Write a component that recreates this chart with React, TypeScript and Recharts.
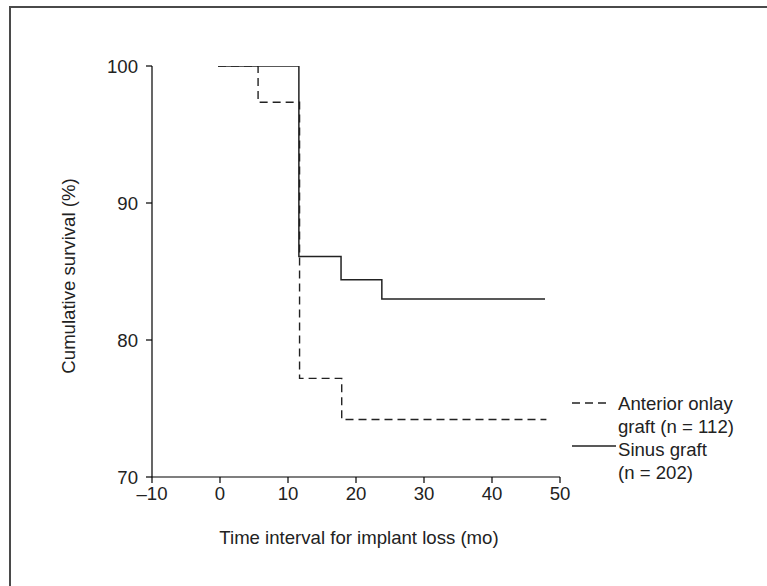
import React from 'react';
import { LineChart, Line, XAxis, YAxis, Label } from 'recharts';

const anteriorData = [
  { x: -0.3, y: 100 },
  { x: 5.6, y: 97.35 },
  { x: 11.7, y: 77.2 },
  { x: 17.9, y: 74.2 },
  { x: 48, y: 74.2 },
];

const sinusData = [
  { x: -0.3, y: 100 },
  { x: 11.6, y: 86.1 },
  { x: 17.8, y: 84.4 },
  { x: 23.8, y: 83.0 },
  { x: 47.8, y: 83.0 },
];

const xTicks = [-10, 0, 10, 20, 30, 40, 50];
const yTicks = [70, 80, 90, 100];
const xLabel = 'Time interval for implant loss (mo)';
const yLabel = 'Cumulative survival (%)';
const legendItems = [
  { lines: ['Anterior onlay', 'graft (n = 112)'], dash: '8 5' },
  { lines: ['Sinus graft', '(n = 202)'], dash: undefined as string | undefined },
];

const FONT = '"Liberation Sans", Arial, Helvetica, sans-serif';
const INK = '#222';
const FS = 18.6;

const fmt = (v: number) => String(v).replace('-', '\u2013');

const LegendBox = () => {
  const ox = 565;
  const oy = 388;
  return (
    <svg width={200} height={100} style={{ display: 'block' }}>
      {legendItems.map((item, i) => {
        const base = i * 46;
        return (
          <g key={i}>
            <line
              x1={572 - ox}
              x2={(item.dash ? 610 : 616) - ox}
              y1={(i === 0 ? 403 : 446) - oy}
              y2={(i === 0 ? 403 : 446) - oy}
              stroke={INK}
              strokeWidth={1.3}
              strokeDasharray={item.dash}
            />
            {item.lines.map((t, j) => (
              <text
                key={j}
                x={618 - ox}
                y={410 - oy + base + j * 23}
                fontSize={FS}
                fontFamily={FONT}
                fill={INK}
              >
                {t}
              </text>
            ))}
          </g>
        );
      })}
    </svg>
  );
};

export default function App() {
  return (
    <div style={{ position: 'absolute', left: 0, top: 0, width: 767, height: 586, overflow: 'hidden', background: '#fff' }}>
      <div
        style={{
          position: 'absolute',
          left: 9,
          top: 6,
          width: 758,
          height: 580,
          boxSizing: 'border-box',
          borderTop: '2px solid #4a4a4a',
          borderLeft: '2px solid #4a4a4a',
        }}
      />
      <div style={{ position: 'absolute', left: 0, top: 0 }}>
        <LineChart width={767} height={586} margin={{ top: 66, right: 207, bottom: 79, left: 92 }}>
          <XAxis
            type="number"
            dataKey="x"
            domain={[-10, 50]}
            ticks={xTicks}
            allowDataOverflow
            height={30}
            tickSize={6}
            tickMargin={4}
            tickFormatter={fmt}
            stroke="#000"
            strokeWidth={1.2}
            tick={{ fill: INK, fontSize: FS, fontFamily: FONT }}
          >
            <Label
              content={() => (
                <text x={359} y={544} textAnchor="middle" fontSize={FS} fontFamily={FONT} fill={INK}>
                  {xLabel}
                </text>
              )}
            />
          </XAxis>
          <YAxis
            type="number"
            domain={[70, 100]}
            ticks={yTicks}
            allowDataOverflow
            width={60}
            tickSize={6}
            tickMargin={8}
            stroke="#000"
            strokeWidth={1.2}
            tick={{ fill: INK, fontSize: FS, fontFamily: FONT }}
          >
            <Label
              content={() => (
                <text
                  x={75}
                  y={276}
                  textAnchor="middle"
                  transform="rotate(-90 75 276)"
                  fontSize={FS}
                  fontFamily={FONT}
                  fill={INK}
                >
                  {yLabel}
                </text>
              )}
            />
          </YAxis>
          <Line
            data={anteriorData}
            dataKey="y"
            name="Anterior onlay graft (n = 112)"
            type="stepAfter"
            stroke={INK}
            strokeWidth={1.4}
            strokeDasharray="8 5"
            dot={false}
            isAnimationActive={false}
          />
          <Line
            data={sinusData}
            dataKey="y"
            name="Sinus graft (n = 202)"
            type="stepAfter"
            stroke={INK}
            strokeWidth={1.5}
            dot={false}
            isAnimationActive={false}
          />
        </LineChart>
      </div>
      <div style={{ position: 'absolute', left: 565, top: 388, width: 200, height: 100 }}>
        <LegendBox />
      </div>
    </div>
  );
}
